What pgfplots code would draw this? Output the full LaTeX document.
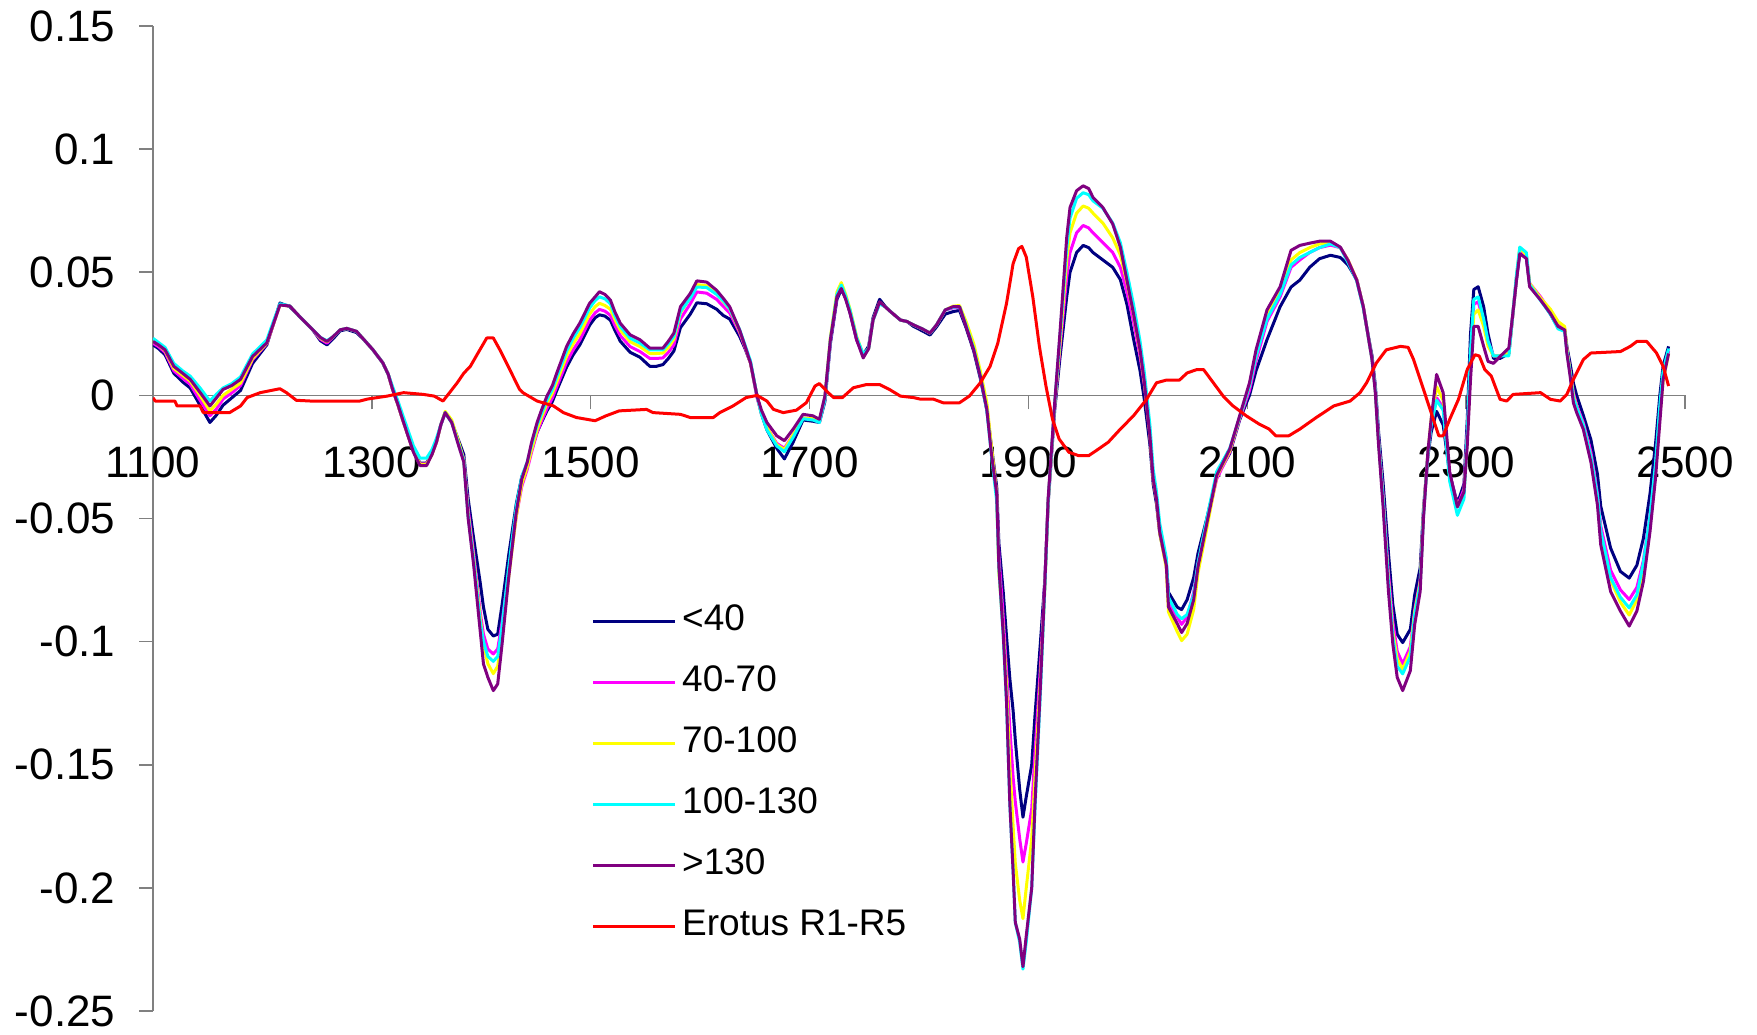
\documentclass[border=0pt]{standalone}
\usepackage{fontspec}
\setmainfont{Liberation Sans}
\usepackage{pgfplots}
\usepackage{pgfplotstable}
\pgfplotsset{compat=1.18}
\definecolor{cN}{RGB}{0,0,128}
\definecolor{cM}{RGB}{255,0,255}
\definecolor{cY}{RGB}{255,255,0}
\definecolor{cC}{RGB}{0,255,255}
\definecolor{cP}{RGB}{128,0,128}
\definecolor{cR}{RGB}{255,0,0}
\definecolor{axgray}{RGB}{128,128,128}
\pgfplotstableread{
x N M Y C P
1100 0.0205 0.0212 0.0220 0.0232 0.0219
1105 0.0190 0.0198 0.0205 0.0215 0.0205
1111 0.0165 0.0175 0.0182 0.0195 0.0185
1119 0.0090 0.0100 0.0110 0.0130 0.0118
1127 0.0055 0.0070 0.0082 0.0100 0.0090
1134 0.0030 0.0045 0.0058 0.0078 0.0065
1143 -0.0040 -0.0020 0.0000 0.0030 0.0012
1152 -0.0110 -0.0083 -0.0063 -0.0023 -0.0043
1158 -0.0080 -0.0055 -0.0035 0.0005 -0.0010
1164 -0.0040 -0.0015 0.0000 0.0030 0.0024
1172 -0.0010 0.0010 0.0025 0.0048 0.0040
1180 0.0020 0.0040 0.0050 0.0075 0.0065
1191 0.0130 0.0145 0.0150 0.0168 0.0158
1204 0.0205 0.0210 0.0212 0.0225 0.0213
1210 0.0290 0.0288 0.0290 0.0300 0.0290
1216 0.0375 0.0368 0.0367 0.0372 0.0367
1225 0.0360 0.0363 0.0363 0.0363 0.0363
1235 0.0315 0.0315 0.0315 0.0315 0.0315
1246 0.0266 0.0266 0.0266 0.0266 0.0266
1253 0.0222 0.0228 0.0232 0.0235 0.0235
1259 0.0205 0.0212 0.0218 0.0222 0.0219
1265 0.0232 0.0240 0.0240 0.0240 0.0240
1271 0.0262 0.0266 0.0266 0.0266 0.0266
1277 0.0268 0.0272 0.0272 0.0272 0.0272
1286 0.0255 0.0260 0.0260 0.0260 0.0260
1293 0.0225 0.0225 0.0225 0.0225 0.0225
1301 0.0185 0.0185 0.0185 0.0185 0.0185
1310 0.0132 0.0132 0.0132 0.0132 0.0132
1315 0.0085 0.0085 0.0085 0.0085 0.0085
1319 0.0024 0.0024 0.0024 0.0035 0.0024
1324 -0.0040 -0.0040 -0.0040 -0.0025 -0.0040
1329 -0.0110 -0.0110 -0.0110 -0.0090 -0.0110
1338 -0.0225 -0.0228 -0.0228 -0.0205 -0.0231
1344 -0.0275 -0.0278 -0.0280 -0.0255 -0.0285
1350 -0.0275 -0.0278 -0.0280 -0.0255 -0.0285
1355 -0.0235 -0.0238 -0.0240 -0.0220 -0.0240
1359 -0.0190 -0.0190 -0.0190 -0.0175 -0.0190
1363 -0.0120 -0.0120 -0.0120 -0.0120 -0.0120
1367 -0.0070 -0.0070 -0.0065 -0.0070 -0.0070
1373 -0.0110 -0.0108 -0.0100 -0.0110 -0.0110
1379 -0.0180 -0.0190 -0.0185 -0.0195 -0.0200
1384 -0.0240 -0.0258 -0.0262 -0.0265 -0.0271
1388 -0.0420 -0.0460 -0.0480 -0.0490 -0.0500
1393 -0.0580 -0.0640 -0.0660 -0.0670 -0.0688
1399 -0.0760 -0.0880 -0.0900 -0.0920 -0.0957
1402 -0.0860 -0.0970 -0.1010 -0.1000 -0.1091
1406 -0.0950 -0.1030 -0.1090 -0.1060 -0.1145
1411 -0.0977 -0.1050 -0.1130 -0.1080 -0.1199
1415 -0.0970 -0.1030 -0.1100 -0.1060 -0.1172
1419 -0.0850 -0.0920 -0.0980 -0.0940 -0.1010
1425 -0.0650 -0.0720 -0.0740 -0.0700 -0.0742
1432 -0.0440 -0.0490 -0.0490 -0.0450 -0.0473
1437 -0.0330 -0.0370 -0.0360 -0.0330 -0.0340
1442 -0.0280 -0.0300 -0.0290 -0.0270 -0.0271
1446 -0.0220 -0.0230 -0.0220 -0.0200 -0.0190
1451 -0.0150 -0.0150 -0.0140 -0.0120 -0.0110
1455 -0.0110 -0.0105 -0.0090 -0.0075 -0.0060
1460 -0.0063 -0.0053 -0.0033 -0.0018 -0.0003
1465 -0.0025 -0.0010 0.0010 0.0025 0.0040
1469 0.0020 0.0035 0.0055 0.0075 0.0091
1478 0.0115 0.0135 0.0160 0.0180 0.0199
1484 0.0165 0.0185 0.0210 0.0232 0.0250
1490 0.0205 0.0225 0.0250 0.0275 0.0293
1499 0.0285 0.0305 0.0330 0.0355 0.0374
1504 0.0315 0.0335 0.0360 0.0385 0.0400
1508 0.0327 0.0349 0.0374 0.0400 0.0421
1513 0.0322 0.0342 0.0365 0.0392 0.0410
1518 0.0305 0.0325 0.0350 0.0372 0.0387
1522 0.0265 0.0285 0.0310 0.0325 0.0340
1527 0.0220 0.0243 0.0265 0.0280 0.0293
1536 0.0175 0.0198 0.0218 0.0232 0.0246
1545 0.0155 0.0178 0.0198 0.0212 0.0226
1554 0.0118 0.0150 0.0170 0.0185 0.0192
1560 0.0118 0.0150 0.0170 0.0185 0.0192
1566 0.0125 0.0152 0.0172 0.0185 0.0192
1571 0.0150 0.0175 0.0195 0.0210 0.0220
1576 0.0180 0.0205 0.0228 0.0240 0.0253
1582 0.0275 0.0310 0.0335 0.0340 0.0360
1591 0.0330 0.0372 0.0398 0.0395 0.0414
1597 0.0376 0.0420 0.0450 0.0440 0.0465
1606 0.0372 0.0415 0.0445 0.0438 0.0460
1615 0.0350 0.0390 0.0412 0.0410 0.0427
1621 0.0325 0.0362 0.0382 0.0385 0.0395
1627 0.0310 0.0335 0.0350 0.0352 0.0360
1636 0.0240 0.0255 0.0262 0.0268 0.0266
1641 0.0190 0.0195 0.0200 0.0205 0.0200
1646 0.0132 0.0132 0.0132 0.0140 0.0132
1652 -0.0003 -0.0010 -0.0003 -0.0003 -0.0003
1656 -0.0075 -0.0070 -0.0070 -0.0075 -0.0060
1661 -0.0140 -0.0130 -0.0130 -0.0140 -0.0110
1670 -0.0215 -0.0195 -0.0200 -0.0205 -0.0164
1677 -0.0258 -0.0215 -0.0220 -0.0229 -0.0184
1685 -0.0190 -0.0160 -0.0160 -0.0170 -0.0137
1694 -0.0100 -0.0092 -0.0092 -0.0095 -0.0077
1703 -0.0105 -0.0098 -0.0095 -0.0100 -0.0083
1709 -0.0110 -0.0108 -0.0105 -0.0110 -0.0097
1714 -0.0025 -0.0015 -0.0010 -0.0015 -0.0003
1719 0.0210 0.0220 0.0235 0.0225 0.0226
1725 0.0390 0.0400 0.0420 0.0410 0.0400
1729 0.0430 0.0440 0.0458 0.0448 0.0434
1733 0.0395 0.0398 0.0410 0.0402 0.0390
1737 0.0335 0.0340 0.0350 0.0345 0.0333
1743 0.0226 0.0226 0.0240 0.0235 0.0226
1749 0.0165 0.0160 0.0165 0.0168 0.0152
1754 0.0200 0.0190 0.0190 0.0190 0.0190
1758 0.0315 0.0306 0.0306 0.0306 0.0306
1764 0.0390 0.0375 0.0378 0.0372 0.0380
1769 0.0362 0.0360 0.0360 0.0360 0.0360
1774 0.0340 0.0340 0.0340 0.0340 0.0340
1783 0.0306 0.0306 0.0306 0.0306 0.0306
1789 0.0300 0.0300 0.0300 0.0300 0.0300
1795 0.0280 0.0286 0.0286 0.0286 0.0286
1803 0.0262 0.0270 0.0270 0.0270 0.0270
1810 0.0245 0.0253 0.0253 0.0253 0.0253
1816 0.0278 0.0286 0.0286 0.0286 0.0286
1824 0.0330 0.0347 0.0347 0.0347 0.0347
1831 0.0340 0.0355 0.0362 0.0358 0.0360
1837 0.0345 0.0358 0.0365 0.0360 0.0360
1843 0.0275 0.0285 0.0300 0.0285 0.0280
1850 0.0180 0.0195 0.0210 0.0190 0.0185
1856 0.0070 0.0085 0.0100 0.0080 0.0078
1862 -0.0060 -0.0045 -0.0030 -0.0060 -0.0057
1866 -0.0200 -0.0210 -0.0200 -0.0235 -0.0230
1871 -0.0370 -0.0400 -0.0400 -0.0430 -0.0400
1873 -0.0600 -0.0650 -0.0720 -0.0700 -0.0695
1877 -0.0800 -0.0900 -0.0950 -0.0980 -0.0970
1880 -0.0980 -0.1120 -0.1180 -0.1250 -0.1245
1883 -0.1150 -0.1350 -0.1500 -0.1660 -0.1657
1886 -0.1280 -0.1550 -0.1750 -0.1930 -0.1933
1888 -0.1400 -0.1650 -0.1900 -0.2140 -0.2140
1892 -0.1600 -0.1800 -0.2050 -0.2220 -0.2208
1895 -0.1713 -0.1895 -0.2125 -0.2330 -0.2320
1898 -0.1630 -0.1820 -0.2000 -0.2220 -0.2195
1903 -0.1500 -0.1680 -0.1800 -0.2000 -0.2000
1906 -0.1300 -0.1450 -0.1550 -0.1680 -0.1657
1911 -0.1000 -0.1100 -0.1150 -0.1200 -0.1176
1915 -0.0750 -0.0760 -0.0780 -0.0780 -0.0762
1918 -0.0440 -0.0430 -0.0430 -0.0430 -0.0420
1924 -0.0060 -0.0045 -0.0040 -0.0035 -0.0030
1929 0.0160 0.0200 0.0220 0.0250 0.0266
1935 0.0400 0.0480 0.0550 0.0600 0.0642
1938 0.0500 0.0580 0.0660 0.0720 0.0763
1944 0.0580 0.0660 0.0740 0.0800 0.0831
1950 0.0609 0.0690 0.0769 0.0823 0.0851
1955 0.0600 0.0680 0.0760 0.0815 0.0840
1959 0.0580 0.0660 0.0740 0.0790 0.0804
1968 0.0550 0.0620 0.0700 0.0760 0.0763
1977 0.0520 0.0580 0.0640 0.0700 0.0696
1984 0.0470 0.0520 0.0570 0.0620 0.0602
1990 0.0370 0.0420 0.0460 0.0500 0.0468
1996 0.0230 0.0300 0.0330 0.0370 0.0333
2002 0.0100 0.0160 0.0180 0.0220 0.0185
2006 -0.0020 0.0040 0.0050 0.0090 0.0051
2011 -0.0200 -0.0160 -0.0160 -0.0120 -0.0164
2014 -0.0360 -0.0340 -0.0340 -0.0300 -0.0339
2017 -0.0440 -0.0420 -0.0420 -0.0390 -0.0420
2020 -0.0560 -0.0550 -0.0560 -0.0520 -0.0556
2026 -0.0690 -0.0680 -0.0700 -0.0660 -0.0690
2028 -0.0800 -0.0840 -0.0880 -0.0820 -0.0860
2036 -0.0860 -0.0900 -0.0960 -0.0890 -0.0927
2040 -0.0870 -0.0930 -0.0996 -0.0907 -0.0963
2045 -0.0830 -0.0900 -0.0970 -0.0890 -0.0927
2051 -0.0740 -0.0800 -0.0870 -0.0810 -0.0830
2055 -0.0640 -0.0680 -0.0720 -0.0680 -0.0695
2063 -0.0500 -0.0520 -0.0540 -0.0500 -0.0520
2072 -0.0330 -0.0340 -0.0330 -0.0310 -0.0325
2084 -0.0235 -0.0230 -0.0225 -0.0215 -0.0218
2093 -0.0100 -0.0095 -0.0090 -0.0088 -0.0083
2102 0.0000 0.0020 0.0040 0.0040 0.0051
2108 0.0100 0.0140 0.0160 0.0160 0.0185
2118 0.0226 0.0300 0.0330 0.0310 0.0347
2130 0.0360 0.0400 0.0430 0.0410 0.0441
2140 0.0440 0.0520 0.0550 0.0530 0.0589
2148 0.0468 0.0550 0.0580 0.0560 0.0609
2157 0.0520 0.0580 0.0600 0.0580 0.0618
2166 0.0555 0.0600 0.0615 0.0600 0.0626
2176 0.0569 0.0610 0.0620 0.0615 0.0626
2185 0.0560 0.0600 0.0600 0.0600 0.0602
2192 0.0530 0.0550 0.0550 0.0540 0.0548
2200 0.0470 0.0470 0.0470 0.0465 0.0468
2206 0.0360 0.0360 0.0360 0.0355 0.0360
2209 0.0280 0.0280 0.0280 0.0280 0.0280
2214 0.0160 0.0145 0.0145 0.0145 0.0145
2217 0.0040 0.0025 0.0020 0.0020 0.0011
2220 -0.0150 -0.0180 -0.0190 -0.0190 -0.0204
2224 -0.0350 -0.0400 -0.0420 -0.0420 -0.0446
2229 -0.0640 -0.0720 -0.0750 -0.0760 -0.0796
2233 -0.0850 -0.0920 -0.0960 -0.0980 -0.1010
2237 -0.0970 -0.1040 -0.1070 -0.1100 -0.1145
2242 -0.1004 -0.1090 -0.1113 -0.1131 -0.1199
2249 -0.0950 -0.1020 -0.1040 -0.1060 -0.1118
2253 -0.0810 -0.0870 -0.0880 -0.0890 -0.0930
2258 -0.0700 -0.0750 -0.0760 -0.0770 -0.0796
2261 -0.0460 -0.0480 -0.0480 -0.0490 -0.0500
2265 -0.0250 -0.0240 -0.0235 -0.0240 -0.0231
2268 -0.0150 -0.0120 -0.0100 -0.0120 -0.0097
2273 -0.0065 -0.0010 0.0035 -0.0020 0.0085
2279 -0.0120 -0.0050 -0.0020 -0.0060 0.0011
2285 -0.0320 -0.0320 -0.0330 -0.0350 -0.0312
2292 -0.0440 -0.0450 -0.0450 -0.0487 -0.0453
2298 -0.0360 -0.0380 -0.0400 -0.0420 -0.0392
2301 -0.0100 -0.0150 -0.0180 -0.0160 -0.0204
2304 0.0250 0.0150 0.0120 0.0180 0.0065
2307 0.0430 0.0370 0.0330 0.0390 0.0280
2311 0.0441 0.0380 0.0347 0.0400 0.0280
2316 0.0360 0.0300 0.0280 0.0310 0.0199
2320 0.0250 0.0220 0.0200 0.0220 0.0138
2325 0.0150 0.0160 0.0160 0.0160 0.0130
2331 0.0150 0.0160 0.0160 0.0160 0.0158
2339 0.0170 0.0170 0.0170 0.0160 0.0192
2342 0.0300 0.0300 0.0300 0.0300 0.0306
2346 0.0470 0.0480 0.0480 0.0490 0.0468
2349 0.0580 0.0590 0.0600 0.0602 0.0575
2355 0.0560 0.0565 0.0570 0.0580 0.0556
2358 0.0450 0.0455 0.0455 0.0450 0.0441
2368 0.0390 0.0400 0.0395 0.0385 0.0387
2377 0.0330 0.0340 0.0350 0.0330 0.0333
2384 0.0275 0.0285 0.0300 0.0270 0.0280
2390 0.0270 0.0270 0.0280 0.0260 0.0266
2392 0.0200 0.0190 0.0190 0.0180 0.0172
2395 0.0130 0.0100 0.0095 0.0090 0.0078
2398 0.0050 0.0010 0.0000 -0.0010 -0.0030
2401 0.0000 -0.0040 -0.0050 -0.0050 -0.0070
2407 -0.0080 -0.0110 -0.0120 -0.0120 -0.0137
2414 -0.0180 -0.0230 -0.0250 -0.0250 -0.0271
2420 -0.0320 -0.0400 -0.0420 -0.0410 -0.0446
2423 -0.0450 -0.0530 -0.0560 -0.0550 -0.0607
2432 -0.0620 -0.0710 -0.0750 -0.0740 -0.0796
2441 -0.0715 -0.0790 -0.0840 -0.0820 -0.0876
2449 -0.0742 -0.0829 -0.0892 -0.0863 -0.0937
2456 -0.0690 -0.0780 -0.0830 -0.0810 -0.0876
2462 -0.0580 -0.0670 -0.0710 -0.0680 -0.0755
2468 -0.0400 -0.0490 -0.0520 -0.0490 -0.0554
2473 -0.0200 -0.0290 -0.0310 -0.0280 -0.0339
2477 0.0000 -0.0060 -0.0080 -0.0040 -0.0110
2480 0.0120 0.0080 0.0060 0.0100 0.0065
2485 0.0199 0.0180 0.0170 0.0190 0.0170
}\groups
\pgfplotstableread{
x R
1100 -0.0010
1102 -0.0023
1120 -0.0023
1122 -0.0043
1143 -0.0043
1146 -0.0070
1170 -0.0070
1180 -0.0043
1186 -0.0009
1198 0.0011
1216 0.0027
1222 0.0011
1231 -0.0020
1244 -0.0023
1289 -0.0023
1296 -0.0015
1314 -0.0003
1329 0.0011
1347 0.0004
1357 -0.0003
1365 -0.0023
1371 0.0011
1378 0.0051
1384 0.0090
1390 0.0118
1397 0.0172
1405 0.0233
1411 0.0233
1417 0.0185
1423 0.0132
1426 0.0105
1435 0.0024
1438 0.0011
1451 -0.0023
1466 -0.0043
1475 -0.0070
1487 -0.0090
1504 -0.0103
1514 -0.0083
1526 -0.0063
1551 -0.0057
1557 -0.0070
1582 -0.0077
1591 -0.0090
1612 -0.0090
1618 -0.0070
1630 -0.0043
1642 -0.0009
1652 0.0000
1661 -0.0023
1667 -0.0057
1676 -0.0070
1688 -0.0060
1697 -0.0030
1705 0.0038
1709 0.0048
1717 0.0011
1722 -0.0009
1730 -0.0009
1740 0.0031
1752 0.0044
1764 0.0044
1773 0.0024
1783 -0.0003
1795 -0.0009
1801 -0.0015
1813 -0.0015
1822 -0.0030
1837 -0.0030
1846 -0.0003
1856 0.0051
1865 0.0118
1872 0.0212
1880 0.0374
1886 0.0535
1891 0.0596
1894 0.0605
1898 0.0562
1904 0.0400
1910 0.0199
1916 0.0038
1922 -0.0097
1928 -0.0177
1937 -0.0231
1946 -0.0245
1955 -0.0245
1964 -0.0218
1973 -0.0190
1984 -0.0137
1996 -0.0083
2008 -0.0016
2017 0.0051
2026 0.0062
2038 0.0062
2045 0.0091
2054 0.0105
2060 0.0105
2069 0.0051
2078 -0.0003
2087 -0.0043
2099 -0.0083
2111 -0.0117
2120 -0.0137
2126 -0.0164
2138 -0.0164
2148 -0.0137
2163 -0.0090
2179 -0.0043
2194 -0.0023
2203 0.0011
2209 0.0051
2218 0.0132
2227 0.0185
2240 0.0199
2247 0.0195
2252 0.0145
2258 0.0065
2264 -0.0016
2270 -0.0097
2275 -0.0164
2279 -0.0164
2285 -0.0097
2293 -0.0016
2301 0.0105
2308 0.0165
2312 0.0160
2317 0.0105
2323 0.0078
2331 -0.0016
2337 -0.0023
2343 0.0004
2368 0.0011
2377 -0.0016
2386 -0.0023
2392 0.0004
2398 0.0065
2407 0.0145
2414 0.0172
2441 0.0178
2450 0.0199
2456 0.0219
2465 0.0219
2474 0.0172
2480 0.0118
2485 0.0038
}\erotus
\begin{document}
\begin{tikzpicture}
\begin{axis}[
  at={(76.5pt,11.5pt)}, anchor=south west,
  width=766pt, height=492.5pt, scale only axis,
  xmin=1100, xmax=2500, ymin=-0.25, ymax=0.15,
  axis x line*=middle, axis y line*=left,
  hide obscured x ticks=false,
  axis line style={draw=axgray, line width=0.75pt},
  xtick={1100,1300,1500,1700,1900,2100,2300,2500},
  xticklabels={1100,1300,1500,1700,1900,2100,2300,2500},
  ytick={-0.25,-0.2,-0.15,-0.1,-0.05,0,0.05,0.1,0.15},
  yticklabels={-0.25,-0.2,-0.15,-0.1,-0.05,0,0.05,0.1,0.15},
  tick align=outside,
  major tick length=7pt,
  tick style={draw=axgray, line width=0.75pt},
  xticklabel style={anchor=north, inner sep=0pt, yshift=-18.7pt, font=\fontsize{22}{24}\selectfont},
  yticklabel style={anchor=east, inner sep=0pt, xshift=-11.7pt, font=\fontsize{22}{24}\selectfont},
  legend style={at={(axis cs:1501,-0.0850)}, anchor=north west, draw=none, fill=none,
    inner sep=0pt, outer sep=0pt, row sep=13.5pt, column sep=2.8pt,
    font=\fontsize{18.5}{20}\selectfont,
    nodes={inner sep=0pt, text height=13pt, text depth=4pt}},
  legend cell align=left,
  legend image code/.code={\draw[#1, line width=1.4pt] (0pt,0pt) -- (41pt,0pt);},
  every axis plot/.append style={line width=1.5pt, line join=round},
]
\addplot[cN] table[x=x, y=N] {\groups};
\addlegendentry{<40}
\addplot[cM] table[x=x, y=M] {\groups};
\addlegendentry{40-70}
\addplot[cY] table[x=x, y=Y] {\groups};
\addlegendentry{70-100}
\addplot[cC] table[x=x, y=C] {\groups};
\addlegendentry{100-130}
\addplot[cP] table[x=x, y=P] {\groups};
\addlegendentry{>130}
\addplot[cR] table[x=x, y=R] {\erotus};
\addlegendentry{Erotus R1-R5}
\end{axis}
\pgfresetboundingbox
\path[use as bounding box] (0,0) rectangle (878.5pt,517pt);
\end{tikzpicture}
\end{document}
